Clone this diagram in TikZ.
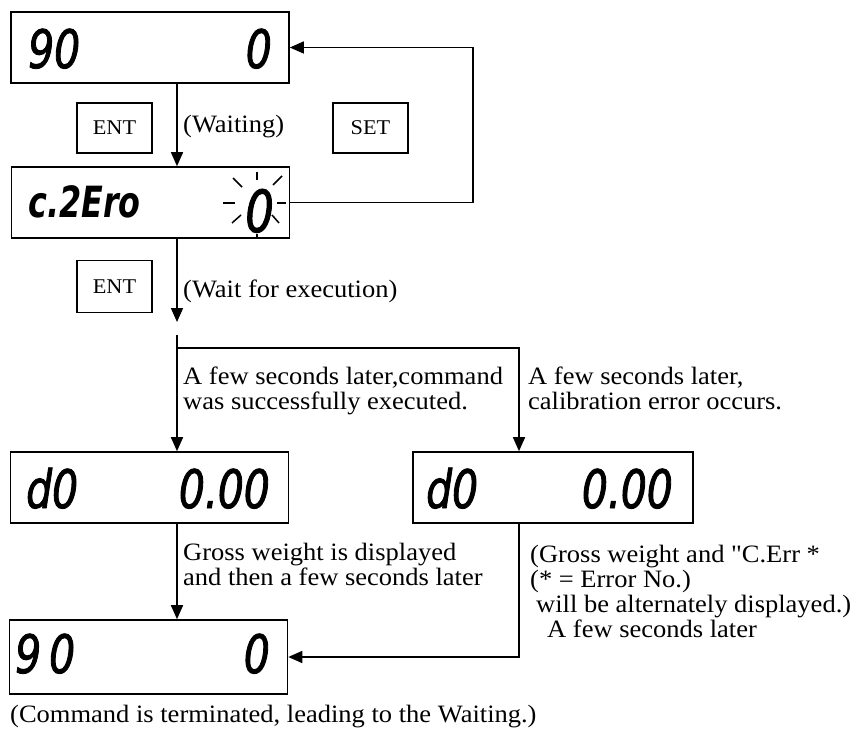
\documentclass[tikz,border=0pt]{standalone}
\usepackage{fontspec}
\setmainfont{Liberation Serif}[FakeStretch=1.06]
\newfontfamily\qfont{Liberation Serif}[FakeStretch=1.06, Ligatures=ResetAll]
\newfontfamily\segfam{DejaVu Sans}[FakeStretch=0.74]
\newfontfamily\segmid{DejaVu Sans}[FakeStretch=0.77, FakeBold=1.6]
\usetikzlibrary{arrows.meta}
\newcommand\txtfont{\fontsize{25}{25}\selectfont}
\newcommand\keyfont{\fontsize{21}{21}\selectfont}
\newcommand\segA{\segmid\itshape\fontsize{53}{53}\selectfont}
\newcommand\segB{\segfam\bfseries\itshape\fontsize{43}{43}\selectfont}
\newcommand\segC{\segmid\itshape\fontsize{58}{58}\selectfont}
\begin{document}
\begin{tikzpicture}[x=1pt,y=-1pt,
  disp/.style={draw, line width=1.6pt, minimum width=278pt, minimum height=71pt, inner sep=0pt},
  key/.style={draw, line width=1.3pt, minimum width=75pt, minimum height=50pt, inner sep=0pt, font=\keyfont},
  lbl/.style={inner sep=0pt, font=\txtfont, align=left},
  sega/.style={inner sep=0pt, font=\segA},
  segb/.style={inner sep=0pt, font=\segB},
  segc/.style={inner sep=0pt, font=\segC},
  ray/.style={line width=1.5pt},
  arr/.style={line width=1.6pt, -{Triangle[length=14pt,width=12pt]}}]
\useasboundingbox (0,0) rectangle (854,730);

% displays
\node[disp] (d1) at (150,47.5) {};
\node[disp] (d2) at (150.5,202.5) {};
\node[disp] (d3) at (149.5,487.5) {};
\node[disp, minimum width=280pt] (d4) at (553,487.5) {};
\node[disp, minimum height=74pt] (d5) at (148.5,657) {};

% display texts
\node[sega, anchor=base west] (t1a) at (28,68) {90};
\node[sega, anchor=base east] (t1b) at (272,68) {0};
\node[segb, anchor=base west] (t2a) at (28,218) {c.2Ero};
\node[segc, anchor=base east] (t2b) at (274,232) {0};
\node[sega, anchor=base west] (t3a) at (26,508) {d0};
\node[sega, anchor=base east] (t3b) at (270,508) {0.00};
\node[sega, anchor=base west] (t4a) at (426,508) {d0};
\node[sega, anchor=base east] (t4b) at (673,508) {0.00};
\node[sega, anchor=base west] (t5a) at (15,673) {9\kern8pt0};
\node[sega, anchor=base east] (t5b) at (270,673) {0};

% blinking rays
\draw[ray] (257,172) -- (257,180);
\draw[ray] (257,234) -- (257,238);
\draw[ray] (223,203) -- (235,203);
\draw[ray] (277,203) -- (286,203);
\draw[ray] (233,178) -- (242,187);
\draw[ray] (273,185) -- (282,176);
\draw[ray] (232,223) -- (241,215);
\draw[ray] (272,215) -- (279,223);

% keys
\node[key] (k1) at (114.5,128) {ENT};
\node[key] (k2) at (370.5,128) {SET};
\node[key, minimum height=52pt] (k3) at (114.5,286.5) {ENT};

% labels
\node[lbl, anchor=base west] (lw) at (183,133) {(Waiting)};
\node[lbl, anchor=base west] (lwe) at (183,297) {(Wait for execution)};
\node[lbl, anchor=north west] (ls) at (183,366.5) {A few seconds later,command\\was successfully executed.};
\node[lbl, anchor=north west] (le) at (528,366.5) {A few seconds later,\\calibration error occurs.};
\node[lbl, anchor=north west] (lg) at (183,542.5) {Gross weight is displayed\\and then a few seconds later};
\node[lbl, anchor=north west] (lr) at (530,544.5) {(Gross weight and {\qfont"}C.Err *\\(* = Error No.)\\\hspace*{6pt}will be alternately displayed.)\\\hspace*{17pt}A few seconds later};
\node[lbl, anchor=base west] (lc) at (10,722) {(Command is terminated, leading to the Waiting.)};

% connectors
\coordinate (lx) at (177,0);
\coordinate (rx) at (519,0);
\coordinate (loop) at (473,120);
\coordinate (wend) at (177,322);
\coordinate (bstart) at (177,335);
\coordinate (bjoin) at (177,348);

\draw[arr] (d1.south -| lx) -- (d2.north -| lx);
\draw[arr] (d2.east) -| (loop) |- (d1.east);
\draw[arr] (d2.south -| lx) -- (wend);
\draw[arr] (bstart) -- (d3.north -| lx);
\draw[arr] (bjoin) -| (d4.north -| rx);
\draw[arr] (d3.south -| lx) -- (d5.north -| lx);
\draw[arr] (d4.south -| rx) |- (d5.east);
\end{tikzpicture}
\end{document}
